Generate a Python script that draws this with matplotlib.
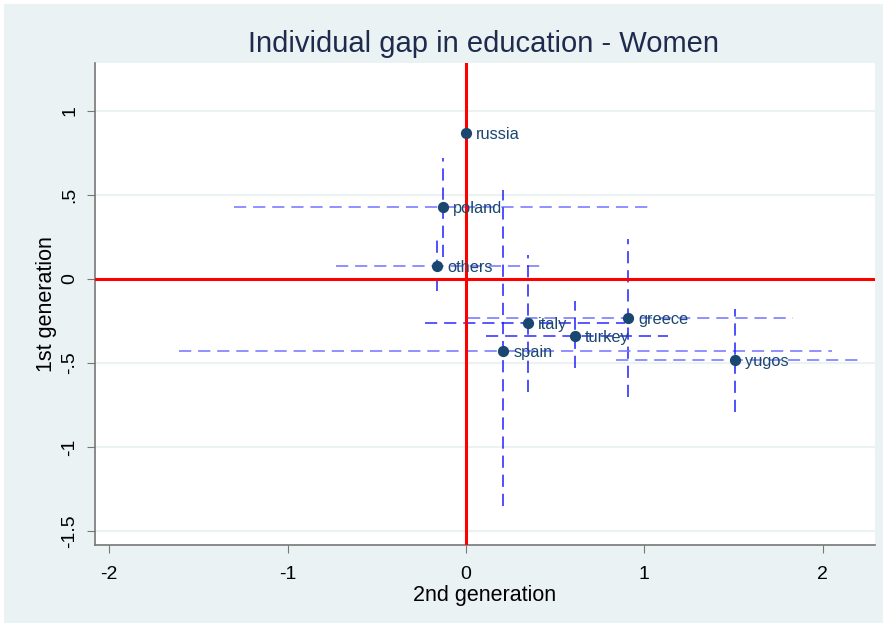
import numpy as np
import matplotlib.pyplot as plt
from matplotlib.patches import Rectangle

# groups and point estimates (2nd generation on x, 1st generation on y)
names = ['russia', 'poland', 'others', 'italy', 'greece', 'turkey', 'spain', 'yugos']
gap_2nd = [0.0, -0.13, -0.16, 0.35, 0.91, 0.61, 0.21, 1.51]
gap_1st = [0.87, 0.43, 0.075, -0.26, -0.23, -0.34, -0.43, -0.48]

# confidence intervals
ci_2nd_lo = [-0.01, -1.30, -0.73, -0.23, 0.01, 0.11, -1.61, 0.84]
ci_2nd_hi = [0.01, 1.05, 0.43, 0.89, 1.83, 1.13, 2.05, 2.20]
ci_1st_lo = [0.52, 0.13, -0.07, -0.67, -0.70, -0.53, -1.35, -0.79]
ci_1st_hi = [1.22, 0.72, 0.23, 0.14, 0.24, -0.13, 0.53, -0.18]
dark_h = [True, False, False, True, False, True, False, False]

x_ticks = [-2, -1, 0, 1, 2]
y_ticks = [-1.5, -1, -0.5, 0, 0.5, 1]
y_ticklabels = ['-1.5', '-1', '-.5', '0', '.5', '1']

BG = '#eaf2f3'
NAVY = '#1a476f'

plt.rcParams['font.family'] = ['Liberation Sans', 'DejaVu Sans']

fig = plt.figure(figsize=(8.87, 6.27), dpi=100, facecolor='white')
fig.patches.append(Rectangle((0.004, 0.006), 0.992, 0.988, transform=fig.transFigure,
                             facecolor=BG, edgecolor='none', zorder=-10))
ax = fig.add_axes([0.107, 0.131, 0.879, 0.7685])
ax.set_facecolor('white')

for yv in y_ticks:
    ax.axhline(yv, color=BG, lw=1.5, zorder=0)

dash = (0, (8, 4.5))
for i in range(len(names)):
    hc = '#2a2aff' if dark_h[i] else '#7373ff'
    ax.plot([ci_2nd_lo[i], ci_2nd_hi[i]], [gap_1st[i], gap_1st[i]],
            color=hc, lw=1.1, linestyle=dash, zorder=2)
    ax.plot([gap_2nd[i], gap_2nd[i]], [ci_1st_lo[i], ci_1st_hi[i]],
            color='#2020ff', lw=1.1, linestyle=dash, zorder=2)

ax.axhline(0, color='red', lw=2.2, zorder=3)
ax.axvline(0, color='red', lw=2.2, zorder=3)

ax.scatter(gap_2nd, gap_1st, s=50, color=NAVY, zorder=4)
for name, xv, yv in zip(names, gap_2nd, gap_1st):
    ax.annotate(name, (xv, yv), xytext=(7, -1), textcoords='offset points',
                ha='left', va='center', fontsize=11.8, color=NAVY, zorder=5)

ax.set_xlim(-2.08, 2.29)
ax.set_ylim(-1.583, 1.286)
ax.set_xticks(x_ticks)
ax.set_xticklabels([str(t) for t in x_ticks])
ax.set_yticks(y_ticks)
ax.set_yticklabels(y_ticklabels, rotation=90, va='center')
ax.tick_params(axis='x', direction='out', length=6, color='#777777', labelsize=14, pad=9)
ax.tick_params(axis='y', direction='out', length=6, color='#777777', labelsize=14, pad=6)

for s in ['top', 'right']:
    ax.spines[s].set_visible(False)
for s in ['left', 'bottom']:
    ax.spines[s].set_color('#777777')
    ax.spines[s].set_linewidth(1.2)

ax.set_xlabel('2nd generation', fontsize=15.5, labelpad=2)
ax.set_ylabel('1st generation', fontsize=15.5, labelpad=3)
fig.text(0.545, 0.93, 'Individual gap in education - Women', ha='center', va='center',
         fontsize=21, color='#1e2b4d')

fig.savefig('out.png', dpi=100, facecolor='white')
